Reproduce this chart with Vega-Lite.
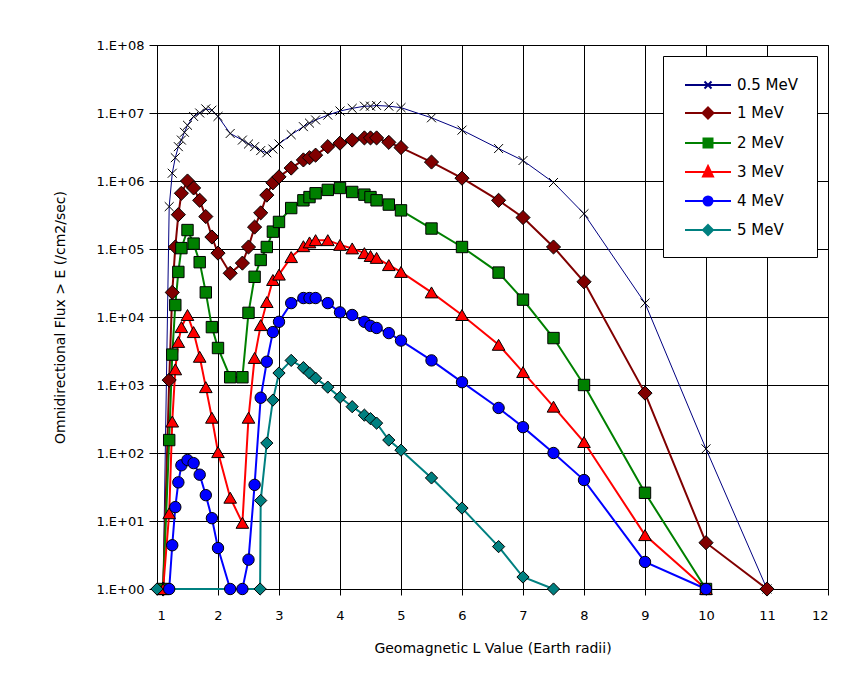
{
  "$schema": "https://vega.github.io/schema/vega-lite/v6.json",
  "width": 671,
  "height": 544,
  "autosize": {"type": "none"},
  "padding": {"left": 157, "top": 45, "right": 35, "bottom": 87},
  "background": "white",
  "config": {"font": "DejaVu Sans", "view": {"stroke": "black", "strokeWidth": 1}},
  "datasets": {
    "flux": [
      {"series":"0.5 MeV","L":1.1,"flux":1},{"series":"0.5 MeV","L":1.2,"flux":420000},{"series":"0.5 MeV","L":1.25,"flux":1300000},{"series":"0.5 MeV","L":1.3,"flux":2200000},{"series":"0.5 MeV","L":1.35,"flux":3200000},{"series":"0.5 MeV","L":1.4,"flux":4000000},{"series":"0.5 MeV","L":1.45,"flux":5200000},{"series":"0.5 MeV","L":1.5,"flux":6600000},{"series":"0.5 MeV","L":1.6,"flux":8900000},{"series":"0.5 MeV","L":1.7,"flux":10000000},{"series":"0.5 MeV","L":1.8,"flux":11500000},{"series":"0.5 MeV","L":1.9,"flux":11000000},{"series":"0.5 MeV","L":2.0,"flux":8900000},{"series":"0.5 MeV","L":2.2,"flux":5000000},{"series":"0.5 MeV","L":2.4,"flux":4000000},{"series":"0.5 MeV","L":2.5,"flux":3500000},{"series":"0.5 MeV","L":2.6,"flux":3200000},{"series":"0.5 MeV","L":2.7,"flux":2800000},{"series":"0.5 MeV","L":2.8,"flux":2600000},{"series":"0.5 MeV","L":2.9,"flux":2950000},{"series":"0.5 MeV","L":3.0,"flux":3500000},{"series":"0.5 MeV","L":3.2,"flux":4800000},{"series":"0.5 MeV","L":3.4,"flux":6300000},{"series":"0.5 MeV","L":3.5,"flux":7100000},{"series":"0.5 MeV","L":3.6,"flux":7900000},{"series":"0.5 MeV","L":3.8,"flux":9300000},{"series":"0.5 MeV","L":4.0,"flux":10700000},{"series":"0.5 MeV","L":4.2,"flux":11700000},{"series":"0.5 MeV","L":4.4,"flux":12600000},{"series":"0.5 MeV","L":4.5,"flux":12600000},{"series":"0.5 MeV","L":4.6,"flux":12900000},{"series":"0.5 MeV","L":4.8,"flux":12600000},{"series":"0.5 MeV","L":5.0,"flux":12000000},{"series":"0.5 MeV","L":5.5,"flux":8500000},{"series":"0.5 MeV","L":6.0,"flux":5600000},{"series":"0.5 MeV","L":6.6,"flux":3000000},{"series":"0.5 MeV","L":7.0,"flux":2000000},{"series":"0.5 MeV","L":7.5,"flux":950000},{"series":"0.5 MeV","L":8.0,"flux":330000},{"series":"0.5 MeV","L":9.0,"flux":16000},{"series":"0.5 MeV","L":10.0,"flux":115},{"series":"0.5 MeV","L":11.0,"flux":1},
      {"series":"1 MeV","L":1.1,"flux":1},{"series":"1 MeV","L":1.2,"flux":1180},{"series":"1 MeV","L":1.25,"flux":23000},{"series":"1 MeV","L":1.3,"flux":107000},{"series":"1 MeV","L":1.35,"flux":320000},{"series":"1 MeV","L":1.4,"flux":660000},{"series":"1 MeV","L":1.5,"flux":1000000},{"series":"1 MeV","L":1.6,"flux":790000},{"series":"1 MeV","L":1.7,"flux":520000},{"series":"1 MeV","L":1.8,"flux":300000},{"series":"1 MeV","L":1.9,"flux":150000},{"series":"1 MeV","L":2.0,"flux":87000},{"series":"1 MeV","L":2.2,"flux":44000},{"series":"1 MeV","L":2.4,"flux":62000},{"series":"1 MeV","L":2.5,"flux":107000},{"series":"1 MeV","L":2.6,"flux":210000},{"series":"1 MeV","L":2.7,"flux":340000},{"series":"1 MeV","L":2.8,"flux":620000},{"series":"1 MeV","L":2.9,"flux":940000},{"series":"1 MeV","L":3.0,"flux":1150000},{"series":"1 MeV","L":3.2,"flux":1550000},{"series":"1 MeV","L":3.4,"flux":2040000},{"series":"1 MeV","L":3.5,"flux":2200000},{"series":"1 MeV","L":3.6,"flux":2400000},{"series":"1 MeV","L":3.8,"flux":3200000},{"series":"1 MeV","L":4.0,"flux":3600000},{"series":"1 MeV","L":4.2,"flux":4000000},{"series":"1 MeV","L":4.4,"flux":4300000},{"series":"1 MeV","L":4.5,"flux":4300000},{"series":"1 MeV","L":4.6,"flux":4300000},{"series":"1 MeV","L":4.8,"flux":3700000},{"series":"1 MeV","L":5.0,"flux":3100000},{"series":"1 MeV","L":5.5,"flux":1900000},{"series":"1 MeV","L":6.0,"flux":1100000},{"series":"1 MeV","L":6.6,"flux":520000},{"series":"1 MeV","L":7.0,"flux":290000},{"series":"1 MeV","L":7.5,"flux":107000},{"series":"1 MeV","L":8.0,"flux":33000},{"series":"1 MeV","L":9.0,"flux":760},{"series":"1 MeV","L":10.0,"flux":4.8},{"series":"1 MeV","L":11.0,"flux":1},
      {"series":"2 MeV","L":1.1,"flux":1},{"series":"2 MeV","L":1.2,"flux":155},{"series":"2 MeV","L":1.25,"flux":2800},{"series":"2 MeV","L":1.3,"flux":15000},{"series":"2 MeV","L":1.35,"flux":46000},{"series":"2 MeV","L":1.4,"flux":103000},{"series":"2 MeV","L":1.5,"flux":190000},{"series":"2 MeV","L":1.6,"flux":120000},{"series":"2 MeV","L":1.7,"flux":64000},{"series":"2 MeV","L":1.8,"flux":23000},{"series":"2 MeV","L":1.9,"flux":7100},{"series":"2 MeV","L":2.0,"flux":3500},{"series":"2 MeV","L":2.2,"flux":1300},{"series":"2 MeV","L":2.4,"flux":1300},{"series":"2 MeV","L":2.5,"flux":11500},{"series":"2 MeV","L":2.6,"flux":39000},{"series":"2 MeV","L":2.7,"flux":69000},{"series":"2 MeV","L":2.8,"flux":107000},{"series":"2 MeV","L":2.9,"flux":180000},{"series":"2 MeV","L":3.0,"flux":250000},{"series":"2 MeV","L":3.2,"flux":400000},{"series":"2 MeV","L":3.4,"flux":520000},{"series":"2 MeV","L":3.5,"flux":580000},{"series":"2 MeV","L":3.6,"flux":660000},{"series":"2 MeV","L":3.8,"flux":740000},{"series":"2 MeV","L":4.0,"flux":790000},{"series":"2 MeV","L":4.2,"flux":690000},{"series":"2 MeV","L":4.4,"flux":630000},{"series":"2 MeV","L":4.5,"flux":580000},{"series":"2 MeV","L":4.6,"flux":520000},{"series":"2 MeV","L":4.8,"flux":450000},{"series":"2 MeV","L":5.0,"flux":370000},{"series":"2 MeV","L":5.5,"flux":200000},{"series":"2 MeV","L":6.0,"flux":107000},{"series":"2 MeV","L":6.6,"flux":45000},{"series":"2 MeV","L":7.0,"flux":18000},{"series":"2 MeV","L":7.5,"flux":4900},{"series":"2 MeV","L":8.0,"flux":1000},{"series":"2 MeV","L":9.0,"flux":26},{"series":"2 MeV","L":10.0,"flux":1},
      {"series":"3 MeV","L":1.1,"flux":1},{"series":"3 MeV","L":1.2,"flux":13},{"series":"3 MeV","L":1.25,"flux":290},{"series":"3 MeV","L":1.3,"flux":1700},{"series":"3 MeV","L":1.35,"flux":4300},{"series":"3 MeV","L":1.4,"flux":7100},{"series":"3 MeV","L":1.5,"flux":10700},{"series":"3 MeV","L":1.6,"flux":6000},{"series":"3 MeV","L":1.7,"flux":2600},{"series":"3 MeV","L":1.8,"flux":930},{"series":"3 MeV","L":1.9,"flux":330},{"series":"3 MeV","L":2.0,"flux":103},{"series":"3 MeV","L":2.2,"flux":22},{"series":"3 MeV","L":2.4,"flux":9.4},{"series":"3 MeV","L":2.5,"flux":330},{"series":"3 MeV","L":2.6,"flux":2500},{"series":"3 MeV","L":2.7,"flux":7600},{"series":"3 MeV","L":2.8,"flux":16600},{"series":"3 MeV","L":2.9,"flux":35000},{"series":"3 MeV","L":3.0,"flux":42000},{"series":"3 MeV","L":3.2,"flux":76000},{"series":"3 MeV","L":3.4,"flux":110000},{"series":"3 MeV","L":3.5,"flux":125000},{"series":"3 MeV","L":3.6,"flux":135000},{"series":"3 MeV","L":3.8,"flux":135000},{"series":"3 MeV","L":4.0,"flux":115000},{"series":"3 MeV","L":4.2,"flux":102000},{"series":"3 MeV","L":4.4,"flux":87000},{"series":"3 MeV","L":4.5,"flux":79000},{"series":"3 MeV","L":4.6,"flux":74000},{"series":"3 MeV","L":4.8,"flux":58000},{"series":"3 MeV","L":5.0,"flux":46000},{"series":"3 MeV","L":5.5,"flux":23000},{"series":"3 MeV","L":6.0,"flux":10700},{"series":"3 MeV","L":6.6,"flux":3900},{"series":"3 MeV","L":7.0,"flux":1550},{"series":"3 MeV","L":7.5,"flux":480},{"series":"3 MeV","L":8.0,"flux":145},{"series":"3 MeV","L":9.0,"flux":6.2},{"series":"3 MeV","L":10.0,"flux":1},
      {"series":"4 MeV","L":1.2,"flux":1},{"series":"4 MeV","L":1.25,"flux":4.4},{"series":"4 MeV","L":1.3,"flux":16},{"series":"4 MeV","L":1.35,"flux":37},{"series":"4 MeV","L":1.4,"flux":66},{"series":"4 MeV","L":1.5,"flux":79},{"series":"4 MeV","L":1.6,"flux":71},{"series":"4 MeV","L":1.7,"flux":48},{"series":"4 MeV","L":1.8,"flux":24},{"series":"4 MeV","L":1.9,"flux":11},{"series":"4 MeV","L":2.0,"flux":4},{"series":"4 MeV","L":2.2,"flux":1},{"series":"4 MeV","L":2.4,"flux":1},{"series":"4 MeV","L":2.5,"flux":2.7},{"series":"4 MeV","L":2.6,"flux":34},{"series":"4 MeV","L":2.7,"flux":650},{"series":"4 MeV","L":2.8,"flux":2200},{"series":"4 MeV","L":2.9,"flux":6000},{"series":"4 MeV","L":3.0,"flux":8500},{"series":"4 MeV","L":3.2,"flux":16000},{"series":"4 MeV","L":3.4,"flux":19000},{"series":"4 MeV","L":3.5,"flux":19000},{"series":"4 MeV","L":3.6,"flux":19000},{"series":"4 MeV","L":3.8,"flux":16000},{"series":"4 MeV","L":4.0,"flux":11700},{"series":"4 MeV","L":4.2,"flux":10700},{"series":"4 MeV","L":4.4,"flux":8500},{"series":"4 MeV","L":4.5,"flux":7400},{"series":"4 MeV","L":4.6,"flux":6900},{"series":"4 MeV","L":4.8,"flux":5800},{"series":"4 MeV","L":5.0,"flux":4500},{"series":"4 MeV","L":5.5,"flux":2300},{"series":"4 MeV","L":6.0,"flux":1100},{"series":"4 MeV","L":6.6,"flux":460},{"series":"4 MeV","L":7.0,"flux":240},{"series":"4 MeV","L":7.5,"flux":100},{"series":"4 MeV","L":8.0,"flux":40},{"series":"4 MeV","L":9.0,"flux":2.5},{"series":"4 MeV","L":10.0,"flux":1},
      {"series":"5 MeV","L":1.0,"flux":1},{"series":"5 MeV","L":2.69,"flux":1},{"series":"5 MeV","L":2.7,"flux":20},{"series":"5 MeV","L":2.8,"flux":140},{"series":"5 MeV","L":2.9,"flux":600},{"series":"5 MeV","L":3.0,"flux":1500},{"series":"5 MeV","L":3.2,"flux":2300},{"series":"5 MeV","L":3.4,"flux":1800},{"series":"5 MeV","L":3.5,"flux":1500},{"series":"5 MeV","L":3.6,"flux":1260},{"series":"5 MeV","L":3.8,"flux":930},{"series":"5 MeV","L":4.0,"flux":660},{"series":"5 MeV","L":4.2,"flux":480},{"series":"5 MeV","L":4.4,"flux":360},{"series":"5 MeV","L":4.5,"flux":320},{"series":"5 MeV","L":4.6,"flux":275},{"series":"5 MeV","L":4.8,"flux":155},{"series":"5 MeV","L":5.0,"flux":110},{"series":"5 MeV","L":5.5,"flux":43},{"series":"5 MeV","L":6.0,"flux":15.5},{"series":"5 MeV","L":6.6,"flux":4.2},{"series":"5 MeV","L":7.0,"flux":1.5},{"series":"5 MeV","L":7.5,"flux":1}
    ],
    "arrow": [{"L": 4.6}]
  },
  "encoding": {
    "x": {
      "field": "L", "type": "quantitative",
      "scale": {"domain": [1, 12], "nice": false, "zero": false},
      "title": "Geomagnetic L Value (Earth radii)",
      "axis": {
        "values": [1,2,3,4,5,6,7,8,9,10,11,12], "format": "d",
        "grid": true, "gridColor": "black", "gridOpacity": 1, "gridWidth": 1,
        "domainColor": "black", "tickColor": "black", "tickSize": 6,
        "labelFontSize": 13, "labelColor": "black", "labelPadding": 14,
        "titleFontSize": 14, "titleFontWeight": "normal", "titleColor": "black", "titlePadding": 19
      }
    },
    "y": {
      "field": "flux", "type": "quantitative",
      "scale": {"type": "log", "domain": [1, 100000000], "nice": false},
      "title": "Omnidirectional Flux > E (/cm2/sec)",
      "axis": {
        "values": [1,10,100,1000,10000,100000,1000000,10000000,100000000],
        "labelExpr": "'1.E+0' + round(log(datum.value)/LN10)",
        "grid": true, "gridColor": "black", "gridOpacity": 1, "gridWidth": 1,
        "domainColor": "black", "tickColor": "black", "tickSize": 8,
        "labelFontSize": 13, "labelColor": "black", "labelPadding": 5,
        "titleFontSize": 14, "titleFontWeight": "normal", "titleColor": "black", "titlePadding": 28
      }
    },
    "color": {
      "field": "series", "type": "nominal",
      "scale": {
        "domain": ["0.5 MeV","1 MeV","2 MeV","3 MeV","4 MeV","5 MeV"],
        "range": ["#000080","#800000","#008000","#FF0000","#0000FF","#008080"]
      },
      "legend": {
        "title": null, "orient": "top-right", "offset": 11, "padding": 18,
        "strokeColor": "black", "fillColor": "white",
        "labelFont": "DejaVu Sans", "labelFontSize": 15, "labelColor": "black",
        "symbolSize": 400, "symbolOffset": 16, "labelOffset": 18, "rowPadding": 9,
        "symbolStrokeWidth": 2, "symbolOpacity": 1,
        "encode": {
          "symbols": {
            "update": {
              "shape": {"signal": "datum.value == '0.5 MeV' ? 'M-2.3,0H2.3M-0.35,-0.35L0.35,0.35M-0.35,0.35L0.35,-0.35' : datum.value == '1 MeV' ? 'M-2.3,0H-0.55M0.55,0H2.3M0,-0.55L0.55,0L0,0.55L-0.55,0Z' : datum.value == '2 MeV' ? 'M-2.3,0H-0.45M0.45,0H2.3M-0.45,-0.45H0.45V0.45H-0.45Z' : datum.value == '3 MeV' ? 'M-2.3,0H-0.29M0.29,0H2.3M0,-0.6L0.5,0.45H-0.5Z' : datum.value == '4 MeV' ? 'M-2.3,0H-0.45M0.45,0H2.3M0.45,0A0.45,0.45,0,1,1,-0.45,0A0.45,0.45,0,1,1,0.45,0Z' : 'M-2.3,0H-0.5M0.5,0H2.3M0,-0.5L0.5,0L0,0.5L-0.5,0Z'"},
              "fill": {"signal": "scale('color', datum.value)"},
              "stroke": {"signal": "scale('color', datum.value)"},
              "size": {"value": 400},
              "strokeWidth": {"value": 2},
              "opacity": {"value": 1}
            }
          }
        }
      }
    }
  },
  "layer": [
    {
      "data": {"name": "flux"},
      "transform": [{"filter": "datum.series == '0.5 MeV'"}],
      "mark": {"type": "line", "strokeWidth": 1}
    },
    {
      "data": {"name": "flux"},
      "transform": [{"filter": "datum.series != '0.5 MeV'"}],
      "mark": {"type": "line", "strokeWidth": 2}
    },
    {
      "data": {"name": "flux"},
      "transform": [{"filter": "datum.series == '0.5 MeV'"}],
      "mark": {"type": "point", "shape": "M-1,-1L1,1M-1,1L1,-1", "size": 80, "filled": true, "stroke": "black", "strokeWidth": 1, "opacity": 1}
    },
    {
      "data": {"name": "flux"},
      "transform": [{"filter": "datum.series == '1 MeV'"}],
      "mark": {"type": "point", "shape": "diamond", "size": 200, "filled": true, "stroke": "black", "strokeWidth": 1, "opacity": 1}
    },
    {
      "data": {"name": "flux"},
      "transform": [{"filter": "datum.series == '2 MeV'"}],
      "mark": {"type": "point", "shape": "square", "size": 130, "filled": true, "stroke": "black", "strokeWidth": 1, "opacity": 1}
    },
    {
      "data": {"name": "flux"},
      "transform": [{"filter": "datum.series == '3 MeV'"}],
      "mark": {"type": "point", "shape": "triangle-up", "size": 160, "filled": true, "stroke": "black", "strokeWidth": 1, "opacity": 1}
    },
    {
      "data": {"name": "flux"},
      "transform": [{"filter": "datum.series == '4 MeV'"}],
      "mark": {"type": "point", "shape": "circle", "size": 130, "filled": true, "stroke": "black", "strokeWidth": 1, "opacity": 1}
    },
    {
      "data": {"name": "flux"},
      "transform": [{"filter": "datum.series == '5 MeV'"}],
      "mark": {"type": "point", "shape": "diamond", "size": 150, "filled": true, "stroke": "black", "strokeWidth": 1, "opacity": 1}
    },
    {
      "data": {"name": "arrow"},
      "mark": {"type": "rule", "color": "red", "strokeWidth": 1.5, "clip": false},
      "encoding": {
        "y": {"datum": 0.05},
        "y2": {"datum": 1},
        "color": {"value": "red"}
      }
    },
    {
      "data": {"name": "arrow"},
      "mark": {"type": "point", "shape": "triangle-up", "filled": true, "color": "red", "size": 140, "opacity": 1, "clip": false},
      "encoding": {
        "y": {"datum": 1},
        "color": {"value": "red"}
      }
    }
  ]
}
